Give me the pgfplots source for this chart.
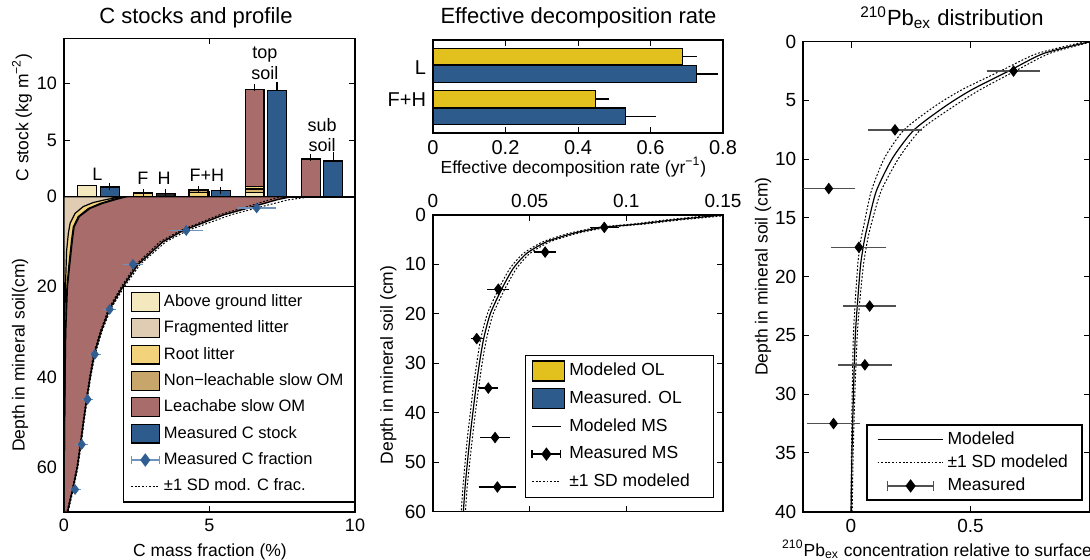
\documentclass[border=0pt]{standalone}
\usepackage{fontspec}
\setmainfont{Liberation Sans}
\usepackage{pgfplots}
\pgfplotsset{compat=1.18}
\definecolor{agl}{HTML}{F3E8BE}
\definecolor{frag}{HTML}{DFCCB2}
\definecolor{root}{HTML}{F2D37C}
\definecolor{nonl}{HTML}{C8A56A}
\definecolor{leach}{HTML}{A86C6A}
\definecolor{meas}{HTML}{2D5B8C}
\definecolor{cfrac}{HTML}{2F5E93}
\definecolor{cfracerr}{HTML}{7093BE}
\definecolor{modol}{HTML}{E2C01E}
\definecolor{pberr}{HTML}{505050}

\newcommand{\legbox}[3]{\addlegendimage{legend image code/.code={\draw[fill=#1,draw=black,line width=0.6pt] (0pt,-#3) rectangle (#2,#3);}}}
\newcommand{\legline}[2]{\addlegendimage{legend image code/.code={\draw[black,line width=0.5pt,#2] (0pt,0pt) -- (#1,0pt);}}}
\newcommand{\legerr}[5]{\addlegendimage{legend image code/.code={%
  \draw[#2,line width=0.7pt] (#5,0pt) -- ({#5+#3},0pt) (#5,-#4) -- (#5,#4) ({#5+#3},-#4) -- ({#5+#3},#4);
  \fill[#1] ({#5+0.5*#3-2.1pt},0pt) -- ({#5+0.5*#3},2.8pt) -- ({#5+0.5*#3+2.1pt},0pt) -- ({#5+0.5*#3},-2.8pt) -- cycle;}}}

\pgfplotsset{
  base/.style={
    scale only axis, anchor=south west,
    axis line style={line width=0.8pt},
    tick align=inside, major tick length=3pt,
    every tick/.style={black, line width=0.5pt},
    /pgf/number format/assume math mode=true,
    scaled ticks=false,
    ticklabel style={font=\fontsize{9}{10}\selectfont},
    legend cell align=left,
  },
  lb/.style={ybar, bar width=0.65, bar shift=0pt, draw=black, line width=0.6pt},
  errY/.style={error bars/.cd, y dir=plus, y explicit,
    error bar style={black, line width=0.6pt},
    error mark options={black, mark size=1.8pt, line width=0.6pt}},
  errX/.style={error bars/.cd, x dir=plus, x explicit,
    error bar style={black, line width=0.6pt},
    error mark options={black, mark size=2.1pt, line width=0.6pt}},
  sd/.style={black, line width=0.5pt, dash pattern=on 0.9pt off 0.9pt},
}

\begin{document}
\begin{tikzpicture}
%================ LEFT TOP: C stocks ================
\begin{axis}[base, at={(32pt,181.65pt)}, width=145.5pt, height=79.1pt,
  xmin=0, xmax=10, ymin=0, ymax=14,
  xtick={0,5,10}, xticklabels={}, ytick={0,5,10}]
\addplot[lb, fill=agl] coordinates {(0.8,1.0)};
\addplot[lb, fill=meas, errY] coordinates {(1.57,0.86) +- (0,0.06)};
\addplot[lb, fill=root, errY] coordinates {(2.72,0.33) +- (0,0.05)};
\addplot[lb, fill=black!85, errY] coordinates {(3.49,0.3) +- (0,0.06)};
\addplot[lb, fill=nonl, errY] coordinates {(4.62,0.6) +- (0,0.04)};
\addplot[lb, fill=root] coordinates {(4.62,0.35)};
\addplot[lb, fill=meas, errY] coordinates {(5.39,0.53) +- (0,0.04)};
\addplot[lb, fill=leach, errY] coordinates {(6.55,9.47) +- (0,0.2)};
\addplot[lb, fill=root] coordinates {(6.55,0.89)};
\addplot[lb, fill=nonl!60!root] coordinates {(6.55,0.68)};
\addplot[lb, fill=agl] coordinates {(6.55,0.39)};
\addplot[lb, fill=meas, errY] coordinates {(7.32,9.41) +- (0,0.44)};
\addplot[lb, fill=leach, errY] coordinates {(8.48,3.33) +- (0,0.12)};
\addplot[lb, fill=meas, errY] coordinates {(9.25,3.16) +- (0,0.47)};
\begin{scope}[font=\fontsize{9}{10}\selectfont]
\node at (axis cs:1.15,2.0) {L};
\node at (axis cs:2.71,1.6) {F};
\node at (axis cs:3.44,1.6) {H};
\node at (axis cs:4.91,1.85) {F+H};
\node at (axis cs:6.9,12.6) {top};
\node at (axis cs:6.9,10.9) {soil};
\node at (axis cs:8.87,6.36) {sub};
\node at (axis cs:8.87,4.6) {soil};
\end{scope}
\end{axis}

%================ LEFT BOTTOM: C profile ================
\begin{axis}[base, at={(32pt,24pt)}, width=145.5pt, height=157.65pt,
  xmin=0, xmax=10, ymin=0, ymax=70, y dir=reverse,
  xtick={0,5,10}, ytick={0,20,40,60}, yticklabels={,20,40,60},
  legend style={at={(1,0.03)}, anchor=south east, draw=black, line width=0.7pt,
    font=\fontsize{8.25}{10.5}\selectfont, row sep=1.7pt,
    inner xsep=3.5pt, inner ysep=2pt, cells={inner xsep=2pt},
    /tikz/every even column/.append style={column sep=0pt}}]
\addplot[fill=leach, draw=black, line width=0.7pt, forget plot] coordinates {
 (0,0) (7.8,0) (7.3,0.7) (6.5,2.2) (5.5,4) (4.1,7.5) (3.4,10) (2.55,15) (2.02,20)
 (1.56,25) (1.27,30) (1.04,35) (0.9,40) (0.78,45) (0.67,50) (0.57,55) (0.46,60)
 (0.3,65) (0.12,70) (0,70)} -- cycle;
\addplot[fill=nonl, draw=black, line width=0.6pt, forget plot] coordinates {
 (0,0) (2.15,0) (1.8,0.6) (1.32,1.5) (0.9,2.6) (0.53,4.4) (0.35,6.7) (0.29,9.6)
 (0.2,15) (0.12,20) (0.06,30) (0.02,50) (0,70)} -- cycle;
\addplot[fill=root, draw=black, line width=0.6pt, forget plot] coordinates {
 (0,0) (2.05,0) (1.69,0.6) (1.24,1.5) (0.84,2.6) (0.49,4.4) (0.32,6.7) (0.26,9.6)
 (0.17,15) (0.1,20) (0.05,30) (0.02,50) (0,70)} -- cycle;
\addplot[fill=frag, draw=black, line width=0.6pt, forget plot] coordinates {
 (0,0) (1.98,0) (1.47,0.6) (1.0,1.3) (0.66,2.2) (0.38,3.7) (0.21,5.9) (0.15,8.1)
 (0.09,12) (0.05,20) (0.02,30) (0.005,50) (0,70)} -- cycle;
\addplot[sd, forget plot] coordinates {
 (8.5,0) (7.7,0.7) (6.8,2.2) (5.75,4) (4.25,7.5) (3.5,10) (2.62,15) (2.07,20)
 (1.6,25) (1.3,30) (1.07,35) (0.92,40) (0.8,45) (0.69,50) (0.59,55) (0.48,60)
 (0.32,65) (0.14,70)};
\addplot[sd, forget plot] coordinates {
 (7.5,0) (7.05,0.7) (6.3,2.2) (5.35,4) (4.0,7.5) (3.3,10) (2.48,15) (1.97,20)
 (1.52,25) (1.24,30) (1.01,35) (0.88,40) (0.76,45) (0.65,50) (0.55,55) (0.44,60)
 (0.28,65) (0.1,70)};
\addplot[only marks, mark=diamond*, mark size=2.4pt, color=cfrac, forget plot,
  error bars/.cd, x dir=both, x explicit,
  error bar style={cfracerr, line width=0.7pt},
  error mark options={cfracerr, mark size=2.2pt, line width=0.7pt}] coordinates {
 (6.62,2.5) +- (0.5,0) (4.2,7.5) +- (0.43,0) (2.37,15) +- (0.19,0) (1.57,25) +- (0.08,0)
 (1.06,35) +- (0.06,0) (0.81,45) +- (0.05,0) (0.61,55) +- (0.05,0) (0.38,65) +- (0.05,0)};
\legbox{agl}{14pt}{4.7pt}\addlegendentry{Above ground litter}
\legbox{frag}{14pt}{4.7pt}\addlegendentry{Fragmented litter}
\legbox{root}{14pt}{4.7pt}\addlegendentry{Root litter}
\legbox{nonl}{14pt}{4.7pt}\addlegendentry{Non−leachable slow OM}
\legbox{leach}{14pt}{4.7pt}\addlegendentry{Leachabe slow OM}
\legbox{meas}{14pt}{4.7pt}\addlegendentry{Measured C stock}
\legerr{cfrac}{cfracerr}{14pt}{2.2pt}{0pt}\addlegendentry{Measured C fraction}
\legline{14pt}{dash pattern=on 0.9pt off 0.9pt}\addlegendentry{±1 SD mod. C frac.}
\end{axis}

%================ MIDDLE TOP: decomposition rate ================
\begin{axis}[base, at={(216.5pt,213.5pt)}, width=145pt, height=46.5pt,
  xmin=0, xmax=0.8, ymin=0, ymax=93, y dir=reverse,
  xtick={0,0.2,0.4,0.6,0.8}, ytick={27.7,59.3}, yticklabels={L,F+H},
  ytick style={draw=none},
  ticklabel style={font=\fontsize{10}{11}\selectfont}]
\addplot[xbar, bar width=16.7, bar shift=0pt, fill=modol, draw=black, line width=0.6pt, errX]
  coordinates {(0.688,16.7) +- (0.028,0) (0.448,59) +- (0.027,0)};
\addplot[xbar, bar width=16.7, bar shift=0pt, fill=meas, draw=black, line width=0.6pt, errX]
  coordinates {(0.727,34) +- (0.048,0) (0.53,76.3) +- (0.074,0)};
\end{axis}

%================ MIDDLE BOTTOM: MS profile ================
\begin{axis}[base, at={(216.5pt,24.15pt)}, width=145pt, height=148.35pt,
  xmin=0, xmax=0.15, ymin=0, ymax=60, y dir=reverse,
  xtick={0,0.05,0.1,0.15}, xticklabels={0,0.05,0.1,0.15}, xticklabel pos=upper,
  ytick={0,10,...,60},
  ticklabel style={font=\fontsize{9.5}{11}\selectfont},
  legend style={at={(0.969,0.045)}, anchor=south east, draw=black, line width=0.7pt,
    font=\fontsize{8.75}{10.5}\selectfont, row sep=2pt,
    inner xsep=3pt, inner ysep=2pt, cells={inner xsep=2pt},
    /tikz/every even column/.append style={column sep=0pt}}]
\addplot[black, line width=0.6pt, smooth, tension=0.4, forget plot] coordinates {
 (0.150,0) (0.137,0.5) (0.124,1.0) (0.107,1.8) (0.088,2.5) (0.0726,3.7) (0.0588,5.4)
 (0.0485,7.75) (0.0415,10.8) (0.0355,15) (0.0296,20) (0.0262,25) (0.024,30)
 (0.0222,35) (0.0206,40) (0.0191,45) (0.0178,50) (0.0166,55) (0.0157,60)};
\addplot[sd, smooth, tension=0.4, forget plot] coordinates {
 (0.1545,0) (0.1411,0.5) (0.1277,1.0) (0.1102,1.8) (0.0906,2.5) (0.0748,3.7) (0.0606,5.4)
 (0.0502,7.75) (0.0432,10.8) (0.0371,15) (0.0311,20) (0.0277,25) (0.0254,30)
 (0.0236,35) (0.0219,40) (0.0204,45) (0.019,50) (0.0177,55) (0.0168,60)};
\addplot[sd, smooth, tension=0.4, forget plot] coordinates {
 (0.1455,0) (0.1329,0.5) (0.1203,1.0) (0.1038,1.8) (0.0854,2.5) (0.0704,3.7) (0.057,5.4)
 (0.0468,7.75) (0.0398,10.8) (0.0339,15) (0.0281,20) (0.0247,25) (0.0226,30)
 (0.0208,35) (0.0193,40) (0.0178,45) (0.0166,50) (0.0155,55) (0.0146,60)};
\addplot[only marks, mark=diamond*, mark size=2.6pt, black, forget plot,
  error bars/.cd, x dir=both, x explicit,
  error bar style={black, line width=0.6pt},
  error mark options={black, mark size=2.1pt, line width=0.6pt}] coordinates {
 (0.0886,2.5) +- (0.0052,0) (0.058,7.5) +- (0.0035,0) (0.0338,15) +- (0.0035,0)
 (0.0226,25) +- (0.001,0) (0.0286,35) +- (0.0026,0) (0.0321,45) +- (0.0054,0)
 (0.0333,55) +- (0.0075,0)};
\legbox{modol}{16.3pt}{5pt}\addlegendentry{\makebox[67pt][l]{Modeled OL}}
\legbox{meas}{16.3pt}{5pt}\addlegendentry{\makebox[67pt][l]{Measured. OL}}
\legline{14.3pt}{}\addlegendentry{\makebox[67pt][l]{Modeled MS}}
\legerr{black}{black}{14.3pt}{2.1pt}{0pt}\addlegendentry{\makebox[67pt][l]{Measured MS}}
\legline{14.3pt}{dash pattern=on 0.9pt off 0.9pt}\addlegendentry{\makebox[67pt][l]{±1 SD modeled}}
\end{axis}

%================ RIGHT: Pb profile ================
\begin{axis}[base, at={(401.6pt,24.15pt)}, width=143.4pt, height=235pt,
  xmin=-0.2, xmax=1, ymin=0, ymax=40, y dir=reverse,
  xtick={0,0.5}, ytick={0,5,...,40},
  ticklabel style={font=\fontsize{9.5}{11}\selectfont},
  legend style={at={(0.9745,0.023)}, anchor=south east, draw=black, line width=0.7pt,
    font=\fontsize{8.75}{10.5}\selectfont, row sep=-0.2pt,
    inner xsep=5pt, inner ysep=1.2pt, cells={inner xsep=2pt},
    /tikz/every even column/.append style={column sep=0pt}}]
\addplot[black, line width=0.6pt, smooth, tension=0.4, forget plot] coordinates {
 (1.0,0) (0.806,1) (0.669,2.4) (0.504,4.1) (0.394,5.5) (0.264,7.5) (0.174,9.9)
 (0.106,12.7) (0.071,15.5) (0.055,17) (0.04,19) (0.028,22) (0.018,25) (0.01,30)
 (0.004,35) (0.0,40)};
\addplot[sd, smooth, tension=0.4, forget plot] coordinates {
 (0.98,0) (0.78,1) (0.635,2.4) (0.463,4.1) (0.35,5.5) (0.222,7.5) (0.14,9.9)
 (0.085,12.7) (0.055,15.5) (0.04,17) (0.028,19) (0.018,22) (0.01,25) (0.005,30)
 (0.002,35) (0.0,40)};
\addplot[sd, smooth, tension=0.4, forget plot] coordinates {
 (1.0,0.05) (0.83,1) (0.696,2.4) (0.539,4.1) (0.43,5.5) (0.291,7.5) (0.2,9.9)
 (0.126,12.7) (0.085,15.5) (0.068,17) (0.052,19) (0.037,22) (0.026,25) (0.016,30)
 (0.009,35) (0.005,40)};
\addplot[only marks, mark=diamond*, mark size=2.6pt, black, forget plot,
  error bars/.cd, x dir=both, x explicit,
  error bar style={pberr, line width=0.7pt},
  error mark options={pberr, mark size=2.6pt, line width=0.7pt}] coordinates {
 (0.68,2.5) +- (0.09,0) (0.184,7.5) +- (0.093,0) (-0.093,12.5) +- (0.09,0)
 (0.033,17.5) +- (0.093,0) (0.078,22.5) +- (0.09,0) (0.058,27.5) +- (0.09,0)
 (-0.073,32.5) +- (0.09,0)};
\legline{32.7pt}{}\addlegendentry{Modeled}
\legline{32.7pt}{dash pattern=on 0.9pt off 0.9pt}\addlegendentry{±1 SD modeled}
\legerr{black}{pberr}{23pt}{2.6pt}{5pt}\addlegendentry{Measured}
\end{axis}

%================ titles and labels ================
\begin{scope}[font=\fontsize{11}{13}\selectfont]
\node at (98pt,271pt) {C stocks and profile};
\node at (289.25pt,271pt) {Effective decomposition rate};
\node at (476pt,271pt) {\textsuperscript{210}Pb\textsubscript{ex} distribution};
\end{scope}
\begin{scope}[font=\fontsize{8.75}{10.5}\selectfont]
\node[rotate=90] at (11pt,221.25pt) {C stock (kg m\textsuperscript{−2})};
\node[rotate=90] at (10pt,102.5pt) {Depth in mineral soil(cm)};
\node at (105pt,4.2pt) {C mass fraction (\%)};
\node at (286.7pt,196.6pt) {Effective decomposition rate (yr\textsuperscript{−1})};
\node[rotate=90] at (194.15pt,97.5pt) {Depth in mineral soil (cm)};
\node[rotate=90] at (381.5pt,141.65pt) {Depth in mineral soil (cm)};
\node at (468.5pt,5.5pt) {\textsuperscript{210}Pb\textsubscript{ex} concentration relative to surface};
\end{scope}
\pgfresetboundingbox
\path[use as bounding box] (0,0) rectangle (545pt,280pt);
\end{tikzpicture}
\end{document}
